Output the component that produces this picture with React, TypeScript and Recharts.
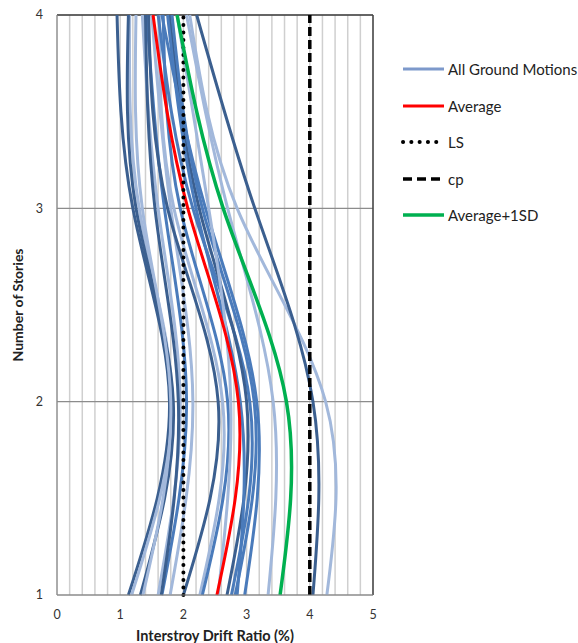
import React from 'react';
import {
  LineChart,
  Line,
  XAxis,
  YAxis,
  CartesianGrid,
  ReferenceLine,
} from 'recharts';

// stories (y axis) and drift values per story [story 1, 2, 3, 4]
const stories = [1, 2, 3, 4];

const gm01 = [1.13, 1.78, 1.2, 0.95];
const gm02 = [1.18, 1.82, 1.3, 1.15];
const gm03 = [1.32, 1.84, 1.25, 1.13];
const gm04 = [1.36, 1.8, 1.35, 1.25];
const gm05 = [1.6, 1.95, 1.6, 1.35];
const gm06 = [1.66, 2.05, 1.7, 1.42];
const gm07 = [1.79, 2.15, 1.8, 1.5];
const gm08 = [2.0, 2.55, 1.75, 1.45];
const gm09 = [2.26, 2.62, 1.85, 1.62];
const gm10 = [2.3, 2.7, 1.95, 1.68];
const gm11 = [2.76, 3.05, 2.15, 1.6];
const gm12 = [2.69, 3.0, 2.25, 1.78];
const gm13 = [2.82, 3.12, 2.3, 1.82];
const gm14 = [2.97, 3.16, 2.35, 1.66];
const gm15 = [3.34, 3.42, 2.7, 2.05];
const gm16 = [4.27, 4.25, 2.85, 2.1];
const gm17 = [4.05, 4.05, 3.13, 2.21];
const gm18 = [2.85, 2.9, 2.2, 1.75];
const gm19 = [2.55, 2.75, 2.4, 1.9];
const gm20 = [1.65, 1.92, 1.55, 1.4];

const groundMotions = [
  gm01, gm02, gm03, gm04, gm05, gm06, gm07, gm08, gm09, gm10,
  gm11, gm12, gm13, gm14, gm15, gm16, gm17, gm18, gm19, gm20,
];
const gmShades = [
  'dark', 'light', 'dark', 'light', 'light', 'mid', 'light', 'dark', 'light', 'mid',
  'mid', 'dark', 'mid', 'mid', 'light', 'light', 'dark', 'mid', 'light', 'dark',
];

const average = [2.53, 2.87, 2.07, 1.52];
const averagePlus1SD = [3.53, 3.63, 2.63, 1.9];
const lsLimit = [2, 2, 2, 2];
const cpLimit = [4, 4, 4, 4];

const xTicks = [
  0, 0.2, 0.4, 0.6, 0.8, 1, 1.2, 1.4, 1.6, 1.8, 2, 2.2, 2.4, 2.6, 2.8, 3,
  3.2, 3.4, 3.6, 3.8, 4, 4.2, 4.4, 4.6, 4.8, 5,
];
const yTicks = [1, 2, 3, 4];

const shadeColor: Record<string, string> = {
  dark: '#3b5f8f',
  mid: '#4a7bbb',
  light: '#a2b8db',
};

const rows = stories.map((story, i) => {
  const row: Record<string, number> = {
    story,
    avg: average[i],
    sd: averagePlus1SD[i],
    ls: lsLimit[i],
    cp: cpLimit[i],
  };
  groundMotions.forEach((g, k) => {
    row[`gm${k}`] = g[i];
  });
  return row;
});

const FONT = 'Lato, "Open Sans", sans-serif';

const legendItems = [
  { label: 'All Ground Motions', color: '#7d99cb', dash: undefined, width: 3, cap: 'butt' },
  { label: 'Average', color: '#ff0000', dash: undefined, width: 3, cap: 'butt' },
  { label: 'LS', color: '#000', dash: '0.1 8.2', width: 4, cap: 'round' },
  { label: 'cp', color: '#000', dash: '9 5', width: 3.5, cap: 'butt' },
  { label: 'Average+1SD', color: '#00b050', dash: undefined, width: 3.5, cap: 'butt' },
];

function ChartLegend() {
  return (
    <div
      style={{
        position: 'absolute',
        left: 401,
        top: 51,
        width: 177,
        fontFamily: FONT,
        fontSize: 15,
        color: '#222',
      }}
    >
      {legendItems.map((it) => (
        <div key={it.label} style={{ display: 'flex', alignItems: 'center', height: 36.5 }}>
          <svg width={47} height={10}>
            <line
              x1={2}
              x2={43}
              y1={5}
              y2={5}
              stroke={it.color}
              strokeWidth={it.width}
              strokeDasharray={it.dash}
              strokeLinecap={it.cap as any}
            />
          </svg>
          <span style={{ whiteSpace: 'nowrap' }}>{it.label}</span>
        </div>
      ))}
    </div>
  );
}

export default function App() {
  return (
    <div style={{ position: 'absolute', left: 0, top: 0, width: 578, height: 643, background: '#fff' }}>
      <LineChart
        width={578}
        height={643}
        data={rows}
        layout="vertical"
        margin={{ top: 15, right: 205, bottom: 0, left: 0 }}
      >
        <CartesianGrid horizontal={false} stroke="#cfcfcf" strokeWidth={1.5} />
        <CartesianGrid vertical={false} stroke="#8c8c8c" strokeWidth={1.2} />
        <XAxis
          type="number"
          domain={[0, 5]}
          ticks={xTicks}
          interval={0}
          tickFormatter={(v: number) => (Number.isInteger(v) ? String(v) : '')}
          tickLine={false}
          tickMargin={9}
          height={48}
          axisLine={{ stroke: '#8c8c8c', strokeWidth: 1.2 }}
          tick={{ fill: '#333', fontSize: 12.5, fontFamily: FONT }}
          label={{
            value: 'Interstroy Drift Ratio (%)',
            position: 'insideBottom',
            offset: 2,
            style: { fontFamily: FONT, fontSize: 14.5, fontWeight: 700, fill: '#222' },
          }}
        />
        <YAxis
          type="number"
          dataKey="story"
          domain={[1, 4]}
          ticks={yTicks}
          reversed
          tickLine={false}
          tickMargin={8}
          width={57}
          axisLine={{ stroke: '#8c8c8c', strokeWidth: 1.2 }}
          tick={{ fill: '#333', fontSize: 12.5, fontFamily: FONT }}
          label={{
            value: 'Number of Stories',
            angle: -90,
            position: 'insideLeft',
            offset: 18,
            style: { textAnchor: 'middle', fontFamily: FONT, fontSize: 14, fontWeight: 700, fill: '#222' },
          }}
        />
        <ReferenceLine y={4} stroke="#444" strokeWidth={1.5} />
        <ReferenceLine x={5} stroke="#444" strokeWidth={1.5} />
        {groundMotions.map((_, k) => (
          <Line
            key={k}
            dataKey={`gm${k}`}
            type="natural"
            stroke={shadeColor[gmShades[k]]}
            strokeWidth={3}
            dot={false}
            isAnimationActive={false}
          />
        ))}
        <Line dataKey="avg" type="natural" stroke="#ff0000" strokeWidth={3} dot={false} isAnimationActive={false} />
        <Line
          dataKey="ls"
          type="linear"
          stroke="#000"
          strokeWidth={4}
          strokeDasharray="0.1 7.4"
          strokeLinecap="round"
          dot={false}
          isAnimationActive={false}
        />
        <Line
          dataKey="cp"
          type="linear"
          stroke="#000"
          strokeWidth={3.5}
          strokeDasharray="9 4"
          dot={false}
          isAnimationActive={false}
        />
        <Line dataKey="sd" type="natural" stroke="#00b050" strokeWidth={3.5} dot={false} isAnimationActive={false} />
      </LineChart>
      <ChartLegend />
    </div>
  );
}
